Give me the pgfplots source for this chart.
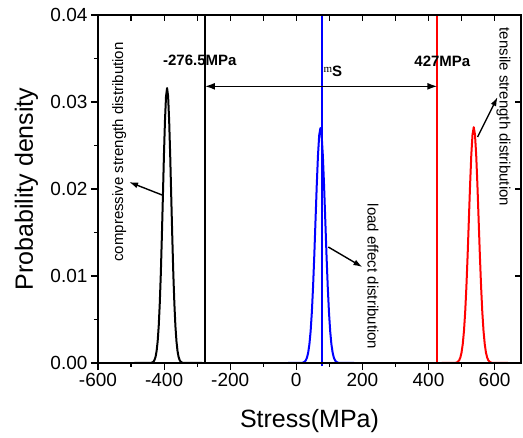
\documentclass[border=0pt]{standalone}
\usepackage{fontspec}
\setmainfont{Liberation Sans}
\newfontfamily\seriffont{Liberation Serif}
\usepackage{pgfplots}
\pgfplotsset{compat=1.18}
\usetikzlibrary{arrows.meta}

\begin{document}
\begin{tikzpicture}
\pgfplotsset{
  common/.style={
    width=423pt, height=348pt, scale only axis,
    xmin=-600, xmax=680, ymin=0, ymax=0.04,
    scaled ticks=false,
    axis line style={line width=1.1pt},
    every tick/.style={line width=1.1pt, black},
  }
}
\begin{axis}[common,
  name=main,
  xtick={-600,-400,...,600}, ytick={0,0.01,0.02,0.03,0.04},
  minor x tick num=1, minor y tick num=1,
  tick pos=left, tick align=outside,
  major tick length=7pt, minor tick length=4pt,
  tick label style={font=\fontsize{19}{19}\selectfont},
  /pgf/number format/assume math mode=true,
  yticklabel style={/pgf/number format/fixed, /pgf/number format/fixed zerofill, /pgf/number format/precision=2},
  xlabel={Stress(MPa)}, ylabel={Probability density},
  label style={font=\fontsize{25}{25}\selectfont},
  x label style={at={(axis description cs:0.5,-0.1227)}, anchor=north},
  y label style={at={(axis description cs:-0.169,0.5)}, anchor=center},
  clip=false,
]
% compressive strength
\addplot[draw=black, line width=2pt, line join=round] coordinates {
(-490,0) (-441.5,0.00001) (-438.3,0.00003) (-435.2,0.00007) (-432.0,0.00016) (-428.9,0.00035) (-425.7,0.00072) (-422.6,0.00139) (-419.4,0.00251) (-416.2,0.00428) (-413.1,0.00683) (-409.9,0.01026) (-406.8,0.01447) (-403.6,0.01917) (-400.5,0.02385) (-397.3,0.02789) (-394.2,0.03063) (-391,0.03160) (-387.8,0.03063) (-384.7,0.02789) (-381.5,0.02385) (-378.4,0.01917) (-375.2,0.01447) (-372.1,0.01026) (-368.9,0.00683) (-365.8,0.00428) (-362.6,0.00251) (-359.4,0.00139) (-356.3,0.00072) (-353.1,0.00035) (-350.0,0.00016) (-346.8,0.00007) (-343.7,0.00003) (-340.5,0.00001) (-285,0)};
% load effect
\addplot[draw=blue, line width=2pt, line join=round] coordinates {
(-25,0) (13.9,0.00001) (17.6,0.00002) (21.3,0.00006) (25.0,0.00014) (28.7,0.00030) (32.4,0.00062) (36.0,0.00119) (39.7,0.00215) (43.4,0.00365) (47.1,0.00584) (50.8,0.00877) (54.5,0.01236) (58.2,0.01638) (61.9,0.02038) (65.6,0.02383) (69.3,0.02617) (73,0.02700) (76.7,0.02617) (80.4,0.02383) (84.1,0.02038) (87.8,0.01638) (91.5,0.01236) (95.2,0.00877) (98.9,0.00584) (102.6,0.00365) (106.3,0.00215) (110.0,0.00119) (113.6,0.00062) (117.3,0.00030) (121.0,0.00014) (124.7,0.00006) (128.4,0.00002) (132.1,0.00001) (175,0)};
% tensile strength
\addplot[draw=red, line width=2pt, line join=round] coordinates {
(440,0) (477.9,0.00001) (481.6,0.00002) (485.3,0.00006) (489.0,0.00014) (492.7,0.00030) (496.4,0.00062) (500.0,0.00119) (503.7,0.00216) (507.4,0.00367) (511.1,0.00586) (514.8,0.00880) (518.5,0.01241) (522.2,0.01644) (525.9,0.02046) (529.6,0.02392) (533.3,0.02627) (537,0.02710) (540.7,0.02627) (544.4,0.02392) (548.1,0.02046) (551.8,0.01644) (555.5,0.01241) (559.2,0.00880) (562.9,0.00586) (566.6,0.00367) (570.3,0.00216) (574.0,0.00119) (577.6,0.00062) (581.3,0.00030) (585.0,0.00014) (588.7,0.00006) (592.4,0.00002) (596.1,0.00001) (640,0)};
% vertical markers
\addplot[draw=black, line width=1.9pt] coordinates {(-276.5,0) (-276.5,0.04)};
\addplot[draw=blue, line width=1.9pt] coordinates {(77,-0.0004) (77,0.04)};
\addplot[draw=red, line width=1.9pt] coordinates {(427,0) (427,0.04)};

\draw[{Latex[length=10pt,width=7pt]}-{Latex[length=10pt,width=7pt]}, line width=1.6pt]
  (axis cs:-276.5,0.0318) -- (axis cs:427,0.0318);

\node[font=\fontsize{15}{15}\selectfont\bfseries] at (axis cs:-292,0.0348) {-276.5MPa};
\node[font=\fontsize{15}{15}\selectfont\bfseries] at (axis cs:442,0.0347) {427MPa};
\node[anchor=west, inner sep=0pt] at (axis cs:82,0.0335)
  {{\seriffont\fontsize{11}{11}\selectfont m}\raisebox{-4pt}{\fontsize{15}{15}\selectfont\bfseries S}};

\node[rotate=90, font=\fontsize{15}{15}\selectfont] at (axis cs:-536,0.02425) {compressive strength distribution};
\node[rotate=-90, font=\fontsize{15}{15}\selectfont] at (axis cs:232,0.00994) {load effect distribution};
\node[rotate=-90, font=\fontsize{15}{15}\selectfont] at (axis cs:627,0.02828) {tensile strength distribution};

\draw[-{Latex[length=9pt,width=6pt]}, line width=1.4pt] (axis cs:-406,0.01931) -- (axis cs:-506,0.0208);
\draw[-{Latex[length=9pt,width=6pt]}, line width=1.4pt] (axis cs:97,0.01333) -- (axis cs:200,0.01103);
\draw[-{Latex[length=9pt,width=6pt]}, line width=1.4pt] (axis cs:548.5,0.02598) -- (axis cs:609,0.03057);
\end{axis}
\begin{axis}[common,
  xtick={-600,-500,...,600}, ytick={0,0.01,0.02,0.03,0.04},
  xticklabels={}, yticklabels={},
  tick pos=right, tick align=inside,
  major tick length=6pt,
]
\end{axis}
\pgfresetboundingbox
\path (main.south west) ++(-98pt,-75pt) rectangle ++(523pt,438pt);
\end{tikzpicture}
\end{document}
